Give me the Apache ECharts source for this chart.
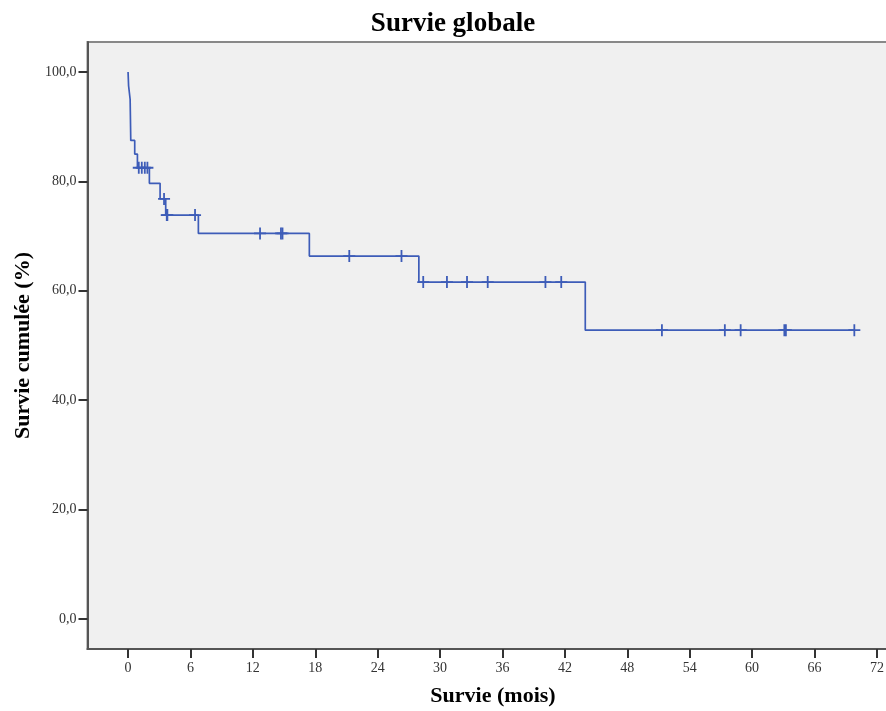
<!DOCTYPE html>
<html>
<head>
<meta charset="utf-8">
<script src="https://cdn.jsdelivr.net/npm/echarts@6/dist/echarts.min.js"></script>
<style>html,body{margin:0;padding:0;background:#fff}#c{width:886px;height:711px}</style>
</head>
<body>
<div id="c"></div>
<script>
// Kaplan-Meier step values (months, cumulative survival %)
var eventTimes = [0, 0.05, 0.2, 0.22, 0.24, 0.26, 0.64, 0.9, 2.05, 3.08, 3.62, 6.76, 17.43, 27.96, 43.96, 69.83];
var survival   = [100, 97.5, 95, 92.5, 90, 87.5, 85, 82.5, 79.66, 76.8, 73.85, 70.5, 66.35, 61.6, 52.8, 52.8];
// censored observations (months)
var censorTimes = [1.03, 1.32, 1.61, 1.86, 3.46, 3.72, 3.78, 6.44, 12.69, 14.7, 14.85,
                   21.27, 26.29, 28.38, 30.66, 32.59, 34.58, 40.13, 41.65,
                   51.33, 57.38, 58.9, 63.1, 63.25, 69.83];
var xTicks = [0, 6, 12, 18, 24, 30, 36, 42, 48, 54, 60, 66, 72];
var yTicks = [0, 20, 40, 60, 80, 100];

function stepValue(t) {
  var v = survival[0];
  for (var i = 0; i < eventTimes.length; i++) { if (eventTimes[i] <= t) v = survival[i]; }
  return v;
}
var lineData = eventTimes.map(function (t, i) { return [t, survival[i]]; });
var censorData = censorTimes.map(function (t) { return [t, stepValue(t)]; });

var blue = '#3d5cb8';
var serif = '"Liberation Serif", "Times New Roman", serif';
var chart = echarts.init(document.getElementById('c'), null, {renderer: 'canvas'});
chart.setOption({
  backgroundColor: '#ffffff',
  animation: false,
  title: {
    text: 'Survie globale', left: 448, top: 6, textAlign: 'center',
    textStyle: {fontFamily: serif, fontSize: 27, fontWeight: 'bold', color: '#000'}
  },
  grid: {left: 87.5, width: 805, top: 42, bottom: 62, show: true, outerBoundsMode: 'none',
         containLabel: false,
         backgroundColor: '#f0f0f0', borderColor: '#888', borderWidth: 2},
  xAxis: {
    type: 'value', min: -3.9, max: 73.5,
    name: 'Survie (mois)', nameLocation: 'middle', nameGap: 36,
    nameTextStyle: {fontFamily: serif, fontSize: 22, fontWeight: 'bold', color: '#000', padding: [0, 0, 0, 6]},
    axisLine: {show: true, onZero: false, lineStyle: {color: '#555', width: 2}},
    axisTick: {show: true, customValues: xTicks, length: 9, lineStyle: {color: '#333', width: 2}},
    axisLabel: {customValues: xTicks, margin: 12, fontFamily: serif, fontSize: 14, color: '#333'},
    splitLine: {show: false}
  },
  yAxis: {
    type: 'value', min: -5.5, max: 105.5,
    name: 'Survie cumulée (%)', nameLocation: 'middle', nameGap: 53, nameRotate: 90,
    nameTextStyle: {fontFamily: serif, fontSize: 22, fontWeight: 'bold', color: '#000'},
    axisLine: {show: true, onZero: false, lineStyle: {color: '#555', width: 2}},
    axisTick: {show: true, customValues: yTicks, length: 9, lineStyle: {color: '#333', width: 2}},
    axisLabel: {customValues: yTicks, margin: 11, fontFamily: serif, fontSize: 14, color: '#333',
                formatter: function (v) { return v.toFixed(1).replace('.', ','); }},
    splitLine: {show: false}
  },
  series: [
    {type: 'line', step: 'end', data: lineData, symbol: 'none',
     lineStyle: {color: blue, width: 1.7}, silent: true},
    {type: 'scatter', data: censorData,
     symbol: 'path://M4.25,0h1.5v10h-1.5z M0,4.25h10v1.5h-10z', symbolSize: [12, 12],
     itemStyle: {color: blue, opacity: 1}, silent: true}
  ]
});
</script>
</body>
</html>
